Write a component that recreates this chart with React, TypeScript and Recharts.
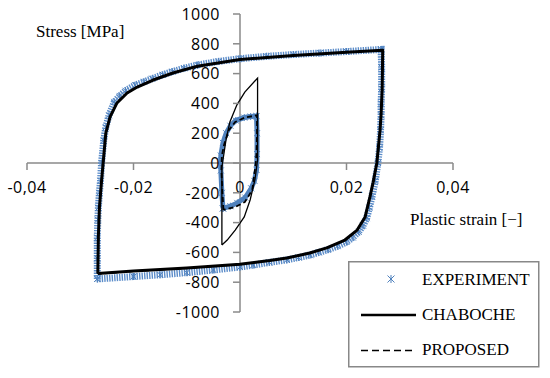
import { ScatterChart, Scatter, XAxis, YAxis, ReferenceLine, Legend } from "recharts";

// strain / stress ticks
const xTicks = [-0.04, -0.02, 0, 0.02, 0.04];
const yTicks = [-1000, -800, -600, -400, -200, 0, 200, 400, 600, 800, 1000];

const experimentLarge = [
  { x: -0.0268, y: -778 }, { x: -0.0268, y: -640 }, { x: -0.0268, y: -500 }, { x: -0.0267, y: -380 },
  { x: -0.0266, y: -300 }, { x: -0.0264, y: -200 }, { x: -0.0262, y: -120 }, { x: -0.026, y: 0 },
  { x: -0.0256, y: 150 }, { x: -0.0252, y: 240 }, { x: -0.0246, y: 320 }, { x: -0.0236, y: 410 },
  { x: -0.0226, y: 450 }, { x: -0.0215, y: 485 }, { x: -0.0197, y: 522 }, { x: -0.018, y: 545 },
  { x: -0.0165, y: 566 }, { x: -0.0145, y: 592 }, { x: -0.0127, y: 613 }, { x: -0.0105, y: 636 },
  { x: -0.008, y: 658 }, { x: -0.004, y: 682 }, { x: 0, y: 700 }, { x: 0.005, y: 716 },
  { x: 0.01, y: 728 }, { x: 0.015, y: 738 }, { x: 0.02, y: 748 }, { x: 0.0265, y: 762 },
  { x: 0.0266, y: 640 }, { x: 0.0266, y: 500 }, { x: 0.0265, y: 400 }, { x: 0.0265, y: 320 },
  { x: 0.0264, y: 220 }, { x: 0.0262, y: 100 }, { x: 0.0259, y: 0 }, { x: 0.0254, y: -120 },
  { x: 0.0248, y: -225 }, { x: 0.0243, y: -300 }, { x: 0.0238, y: -370 }, { x: 0.0231, y: -420 },
  { x: 0.0223, y: -462 }, { x: 0.0212, y: -500 }, { x: 0.02, y: -530 }, { x: 0.0183, y: -558 },
  { x: 0.0165, y: -582 }, { x: 0.0148, y: -600 }, { x: 0.0132, y: -617 }, { x: 0.011, y: -634 },
  { x: 0.0088, y: -650 }, { x: 0.0055, y: -667 }, { x: 0.0025, y: -685 }, { x: 0, y: -698 },
  { x: -0.005, y: -718 }, { x: -0.01, y: -736 }, { x: -0.015, y: -750 }, { x: -0.02, y: -762 },
  { x: -0.0268, y: -778 },
];

const experimentSmall = [
  { x: -0.0032, y: -305 }, { x: -0.0034, y: -200 }, { x: -0.0036, y: -50 }, { x: -0.0036, y: 50 },
  { x: -0.0032, y: 135 }, { x: -0.0026, y: 200 }, { x: -0.0018, y: 250 }, { x: -0.0008, y: 285 },
  { x: 0.0008, y: 305 }, { x: 0.002, y: 312 }, { x: 0.0031, y: 315 }, { x: 0.0032, y: 200 },
  { x: 0.0032, y: 60 }, { x: 0.0031, y: -47 }, { x: 0.0027, y: -120 }, { x: 0.0021, y: -170 },
  { x: 0.001, y: -232 }, { x: -0.0005, y: -268 }, { x: -0.0018, y: -290 }, { x: -0.0032, y: -305 },
];

// Chaboche model
const chabocheLarge = [
  { x: -0.0267, y: -742 }, { x: -0.0266, y: -500 }, { x: -0.0264, y: -300 }, { x: -0.026, y: -120 },
  { x: -0.0257, y: 0 }, { x: -0.0252, y: 200 }, { x: -0.0244, y: 310 }, { x: -0.0231, y: 403 },
  { x: -0.0212, y: 470 }, { x: -0.0193, y: 510 }, { x: -0.0163, y: 557 }, { x: -0.0126, y: 604 },
  { x: -0.008, y: 650 }, { x: 0, y: 695 }, { x: 0.01, y: 722 }, { x: 0.02, y: 743 },
  { x: 0.0268, y: 757 }, { x: 0.0267, y: 500 }, { x: 0.0265, y: 330 }, { x: 0.0263, y: 220 },
  { x: 0.0257, y: 0 }, { x: 0.025, y: -130 }, { x: 0.0244, y: -228 }, { x: 0.0235, y: -362 },
  { x: 0.022, y: -450 }, { x: 0.0197, y: -517 }, { x: 0.0163, y: -570 }, { x: 0.0131, y: -604 },
  { x: 0.0088, y: -638 }, { x: 0.0056, y: -655 }, { x: 0, y: -680 }, { x: -0.01, y: -705 },
  { x: -0.02, y: -725 }, { x: -0.0267, y: -742 },
];

const chabocheSmall = [
  { x: -0.0034, y: -550 }, { x: -0.0034, y: -27 }, { x: -0.0026, y: 161 }, { x: -0.0019, y: 275 },
  { x: -0.0006, y: 389 }, { x: 0.0009, y: 476 }, { x: 0.0033, y: 570 }, { x: 0.0033, y: 20 },
  { x: 0.0028, y: -114 }, { x: 0.0019, y: -248 }, { x: 0.0008, y: -362 }, { x: -0.0009, y: -450 },
  { x: -0.0024, y: -517 }, { x: -0.0034, y: -550 },
];

// proposed model
const proposedLarge = [
  { x: -0.0267, y: -745 }, { x: -0.0266, y: -500 }, { x: -0.0264, y: -300 }, { x: -0.026, y: -120 },
  { x: -0.0257, y: 0 }, { x: -0.0252, y: 200 }, { x: -0.0244, y: 312 }, { x: -0.0231, y: 405 },
  { x: -0.0212, y: 472 }, { x: -0.0193, y: 512 }, { x: -0.0163, y: 559 }, { x: -0.0126, y: 605 },
  { x: -0.008, y: 651 }, { x: 0, y: 695 }, { x: 0.01, y: 722 }, { x: 0.02, y: 743 },
  { x: 0.0268, y: 757 }, { x: 0.0267, y: 500 }, { x: 0.0265, y: 330 }, { x: 0.0263, y: 220 },
  { x: 0.0257, y: 0 }, { x: 0.025, y: -130 }, { x: 0.0244, y: -228 }, { x: 0.0235, y: -362 },
  { x: 0.022, y: -450 }, { x: 0.0197, y: -517 }, { x: 0.0163, y: -570 }, { x: 0.0131, y: -604 },
  { x: 0.0088, y: -638 }, { x: 0.0056, y: -655 }, { x: 0, y: -680 }, { x: -0.01, y: -707 },
  { x: -0.02, y: -727 }, { x: -0.0267, y: -745 },
];

const proposedSmall = [
  { x: -0.0031, y: -315 }, { x: -0.0033, y: -200 }, { x: -0.0035, y: -50 }, { x: -0.0034, y: 50 },
  { x: -0.003, y: 121 }, { x: -0.0021, y: 221 }, { x: -0.0009, y: 275 }, { x: 0.0009, y: 305 },
  { x: 0.0032, y: 320 }, { x: 0.0032, y: 200 }, { x: 0.0031, y: 60 }, { x: 0.0029, y: -20 },
  { x: 0.0023, y: -181 }, { x: 0.0009, y: -262 }, { x: -0.0009, y: -295 }, { x: -0.0031, y: -315 },
];

const legendItems = ["EXPERIMENT", "CHABOCHE", "PROPOSED"];

const W = 550;
const H = 378;
// plot area: x 27..453, y 14..312 (axis boxes sit inside the outer margins)
const X_AXIS_H = 30;
const Y_AXIS_W = 60;
const M = { top: 14, right: 97 - Y_AXIS_W, bottom: 66 - X_AXIS_H, left: 27 };
// axes cross at the origin, which is the middle of the plot area
const X0 = 27 + (453 - 27) / 2;
const Y0 = 14 + (312 - 14) / 2;

const AXIS = "#8a8a8a";
const BLUE = "#4f81bd";
const SERIF = "'Liberation Serif', 'DejaVu Serif', serif";
const SANS = "'Open Sans', 'Liberation Sans', sans-serif";

const fmtStrain = (v: number) => (v === 0 ? "0" : v.toFixed(2).replace(".", ","));

function XTick(props: any) {
  const { x, payload } = props;
  return (
    <g>
      <line x1={x} x2={x} y1={Y0} y2={Y0 + 7} stroke={AXIS} strokeWidth={1.5} />
      <text x={x} y={Y0 + 30} textAnchor="middle" fontFamily={SANS} fontSize={16} letterSpacing={0.5} fill="#000">
        {fmtStrain(payload.value)}
      </text>
    </g>
  );
}

function YTick(props: any) {
  const { y, payload } = props;
  return (
    <g>
      <line x1={X0 - 7} x2={X0} y1={y} y2={y} stroke={AXIS} strokeWidth={1.5} />
      <text x={X0 - 20} y={y} dy="0.36em" textAnchor="end" fontFamily={SANS} fontSize={16} letterSpacing={0.5} fill="#000">
        {payload.value}
      </text>
    </g>
  );
}

function Star({ cx, cy, r = 3 }: { cx: number; cy: number; r?: number }) {
  return (
    <g stroke={BLUE} strokeWidth={1}>
      <line x1={cx - r} y1={cy - r} x2={cx + r} y2={cy + r} />
      <line x1={cx - r} y1={cy + r} x2={cx + r} y2={cy - r} />
      <line x1={cx} y1={cy - r - 0.5} x2={cx} y2={cy + r + 0.5} />
    </g>
  );
}

const renderStar = (p: any) => <Star cx={p.cx} cy={p.cy} />;
const renderNone = () => <g />;

function LegendBox() {
  return (
    <svg width={192} height={107} style={{ display: "block" }}>
      <rect x={0.75} y={0.75} width={190} height={105} fill="#fff" stroke="#888" strokeWidth={1.5} />
      <Star cx={43} cy={18} r={3.5} />
      <line x1={13} x2={68} y1={54} y2={54} stroke="#000" strokeWidth={2.5} />
      <line x1={13} x2={67} y1={89.5} y2={89.5} stroke="#000" strokeWidth={1.6} strokeDasharray="7 4" />
      {legendItems.map((t, i) => (
        <text key={t} x={74} y={24 + i * 35} fontFamily={SERIF} fontSize={17} fill="#000">
          {t}
        </text>
      ))}
    </svg>
  );
}

export default function App() {
  return (
    <div style={{ position: "absolute", left: 0, top: 0, width: W, height: H, background: "#fff" }}>
      <ScatterChart width={W} height={H} margin={M}>
        <XAxis
          type="number"
          dataKey="x"
          domain={[-0.04, 0.04]}
          ticks={xTicks}
          allowDataOverflow
          height={X_AXIS_H}
          axisLine={false}
          tickLine={false}
          tick={<XTick />}
          interval={0}
        />
        <YAxis
          type="number"
          dataKey="y"
          orientation="right"
          domain={[-1000, 1000]}
          ticks={yTicks}
          allowDataOverflow
          width={Y_AXIS_W}
          axisLine={false}
          tickLine={false}
          tick={<YTick />}
          interval={0}
        />
        <ReferenceLine y={0} stroke={AXIS} strokeWidth={1.5} />
        <ReferenceLine x={0} stroke={AXIS} strokeWidth={1.5} />

        <Scatter
          data={experimentLarge}
          shape={renderStar}
          line={{ stroke: "#5b8cc9", strokeWidth: 7, strokeDasharray: "1.4 1.1" }}
          lineType="joint"
          isAnimationActive={false}
        />
        <Scatter
          data={experimentSmall}
          shape={renderStar}
          line={{ stroke: BLUE, strokeWidth: 5 }}
          lineType="joint"
          isAnimationActive={false}
        />
        <Scatter
          data={chabocheLarge}
          shape={renderNone}
          line={{ stroke: "#000", strokeWidth: 3, strokeLinejoin: "round" }}
          lineType="joint"
          isAnimationActive={false}
        />
        <Scatter
          data={chabocheSmall}
          shape={renderNone}
          line={{ stroke: "#000", strokeWidth: 1.3 }}
          lineType="joint"
          isAnimationActive={false}
        />
        <Scatter
          data={proposedLarge}
          shape={renderNone}
          line={{ stroke: "#000", strokeWidth: 1.5, strokeDasharray: "5 3" }}
          lineType="joint"
          isAnimationActive={false}
        />
        <Scatter
          data={proposedSmall}
          shape={renderNone}
          line={{ stroke: "#000", strokeWidth: 1.8, strokeDasharray: "5 3" }}
          lineType="joint"
          isAnimationActive={false}
        />

        <Legend
          layout="horizontal"
          verticalAlign="middle"
          align="center"
          content={() => <LegendBox />}
          wrapperStyle={{ left: 348, top: 261, width: 192, height: 107 }}
        />

        <text x={36} y={37} fontFamily={SERIF} fontSize={17} fill="#000">
          Stress [MPa]
        </text>
        <text x={410} y={225} fontFamily={SERIF} fontSize={17} fill="#000">
          Plastic strain [−]
        </text>
      </ScatterChart>
    </div>
  );
}
